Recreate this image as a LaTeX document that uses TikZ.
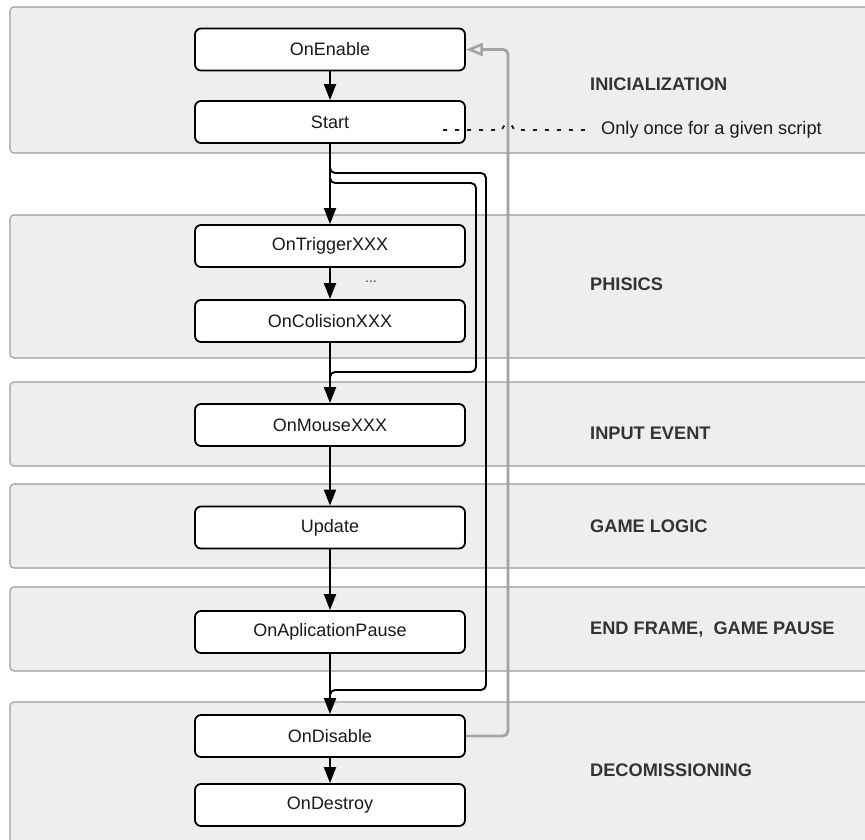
\documentclass[tikz,border=0pt]{standalone}
\usepackage{fontspec}
\setmainfont{Liberation Sans}
\usetikzlibrary{arrows.meta}
\definecolor{lanefill}{HTML}{EEEEEE}
\definecolor{laneline}{HTML}{9A9A9A}
\definecolor{labelc}{HTML}{333333}
\definecolor{grayarrow}{HTML}{A3A3A3}
\definecolor{boxtext}{HTML}{1A1A1A}
\begin{document}
\begin{tikzpicture}[x=1pt,y=-1pt,
  box/.style={draw=black,line width=1.8pt,fill=white,rounded corners=6pt,
    minimum width=270pt,minimum height=42pt,inner sep=0pt,
    font=\fontsize{18}{20}\selectfont,text=boxtext},
  lane/.style={fill=lanefill,draw=laneline,line width=1.1pt,rounded corners=4pt},
  lanelabel/.style={anchor=west,inner sep=0pt,
    font=\fontsize{18.2}{20}\selectfont\bfseries,text=labelc},
  flow/.style={line width=1.9pt,-{Triangle[length=16pt,width=12pt]}},
  loopline/.style={line width=1.9pt,rounded corners=5pt},
  backarrow/.style={draw=grayarrow,line width=2.8pt,rounded corners=5pt,
    -{Triangle[open,length=17pt,width=13pt,line width=2.6pt]}},
  dotline/.style={draw=boxtext,line width=1.8pt,dash pattern=on 4pt off 8pt}
]
\useasboundingbox (0,0) rectangle (865,839);
\clip (0,0) rectangle (865,839);
\fill[white] (0,0) rectangle (865,839);

% lanes
\path[lane] (880,7) -- (10,7) -- (10,153) -- (880,153) -- cycle;
\path[lane] (880,215) -- (10,215) -- (10,358) -- (880,358) -- cycle;
\path[lane] (880,382) -- (10,382) -- (10,466) -- (880,466) -- cycle;
\path[lane] (880,484) -- (10,484) -- (10,568) -- (880,568) -- cycle;
\path[lane] (880,587) -- (10,587) -- (10,671) -- (880,671) -- cycle;
\path[lane] (880,702) -- (10,702) -- (10,860) -- (880,860) -- cycle;

% lane labels
\node[lanelabel] (l1) at (590,84) {INICIALIZATION};
\node[lanelabel] (l2) at (590,284) {PHISICS};
\node[lanelabel] (l3) at (590,433) {INPUT EVENT};
\node[lanelabel] (l4) at (590,526) {GAME LOGIC};
\node[lanelabel] (l5) at (590,630) {END FRAME,\ \ GAME PAUSE};
\node[lanelabel] (l6) at (590,770) {DECOMISSIONING};

% loops
\draw[loopline] (330,165) -- (330,173) -- (486,173) -- (486,690) -- (330,690) -- (330,700);
\draw[loopline] (330,176) -- (330,183) -- (476,183) -- (476,372) -- (330,372) -- (330,380);

% boxes
\node[box] (enable) at (330,49.5) {OnEnable};
\node[box] (start) at (330,122) {Start};
\node[box] (trigger) at (330,246) {OnTriggerXXX};
\node[box] (colision) at (330,321) {OnColisionXXX};
\node[box] (mouse) at (330,425) {OnMouseXXX};
\node[box] (update) at (330,527.5) {Update};
\node[box] (pause) at (330,632) {OnAplicationPause};
\node[box] (disable) at (330,736) {OnDisable};
\node[box] (destroy) at (330,805) {OnDestroy};

\node[font=\fontsize{14}{14}\selectfont,text=labelc] (dots) at (371,282) {...};

% flow arrows
\draw[flow] (enable) -- (start);
\draw[flow] (start) -- (trigger);
\draw[flow] (trigger) -- (colision);
\draw[flow] (colision) -- (mouse);
\draw[flow] (mouse) -- (update);
\draw[flow] (update) -- (pause);
\draw[flow] (pause) -- (disable);
\draw[flow] (disable) -- (destroy);

% back arrow
\coordinate (bk1) at (508,736);
\coordinate (bk2) at (508,49.5);
\draw[backarrow] (disable.east) -- (bk1) -- (bk2) -- (enable.east);

% once-only note
\node[anchor=west,inner sep=0pt,font=\fontsize{18.2}{20}\selectfont,text=boxtext] (note) at (601,130) {Only once for a given script};
\coordinate (d0) at (443,130);
\coordinate (d1) at (592,130);
\draw[dotline] (d0) -- (502,130) .. controls (504,122) and (512,122) .. (514,130) -- (d1);
\end{tikzpicture}
\end{document}
